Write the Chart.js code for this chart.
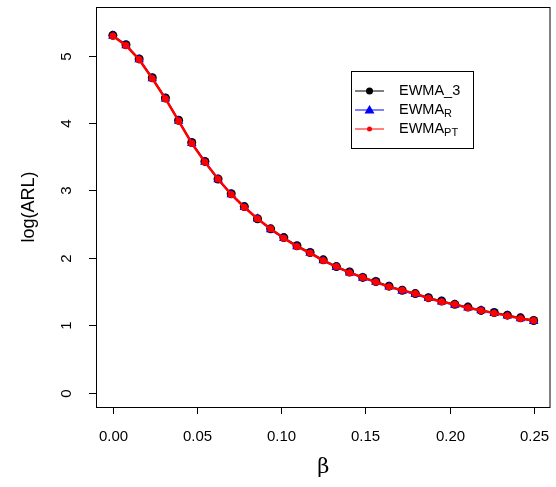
<!DOCTYPE html>
<html>
<head>
<meta charset="utf-8">
<script src="https://cdn.jsdelivr.net/npm/chart.js@4"></script>
<style>
  html, body { margin: 0; padding: 0; background: #fff; }
  #wrap { width: 556px; height: 487px; }
</style>
</head>
<body>
<div id="wrap"><canvas id="arlChart" width="556" height="487"></canvas></div>
<script>
// beta values (step 1/128)
const betas = [0, 0.0078125, 0.015625, 0.0234375, 0.03125, 0.0390625, 0.046875, 0.0546875,
  0.0625, 0.0703125, 0.078125, 0.0859375, 0.09375, 0.1015625, 0.109375, 0.1171875,
  0.125, 0.1328125, 0.140625, 0.1484375, 0.15625, 0.1640625, 0.171875, 0.1796875,
  0.1875, 0.1953125, 0.203125, 0.2109375, 0.21875, 0.2265625, 0.234375, 0.2421875, 0.25];

const ewma3 = [5.30, 5.16, 4.95, 4.67, 4.37, 4.04, 3.71, 3.43, 3.17, 2.95, 2.76, 2.58,
  2.43, 2.30, 2.18, 2.08, 1.97, 1.87, 1.79, 1.71, 1.65, 1.58, 1.52, 1.47, 1.41, 1.36,
  1.31, 1.27, 1.22, 1.19, 1.15, 1.11, 1.07];
const ewmaR = [5.29, 5.15, 4.94, 4.66, 4.36, 4.03, 3.70, 3.42, 3.16, 2.94, 2.75, 2.58,
  2.42, 2.29, 2.17, 2.07, 1.96, 1.86, 1.78, 1.70, 1.64, 1.57, 1.51, 1.46, 1.40, 1.35,
  1.30, 1.26, 1.22, 1.18, 1.14, 1.10, 1.06];
const ewmaPT = [5.29, 5.15, 4.94, 4.66, 4.36, 4.03, 3.70, 3.42, 3.17, 2.94, 2.75, 2.58,
  2.43, 2.29, 2.17, 2.07, 1.96, 1.87, 1.78, 1.71, 1.64, 1.57, 1.52, 1.47, 1.40, 1.35,
  1.31, 1.26, 1.22, 1.18, 1.14, 1.10, 1.07];

const xTicks = [0, 0.05, 0.10, 0.15, 0.20, 0.25];
const yTicks = [0, 1, 2, 3, 4, 5];

const FONT = '"Liberation Sans", Arial, sans-serif';

function pts(ys) {
  return betas.map((b, i) => ({ x: b, y: ys[i] }));
}

// frame, ticks, labels and legend drawn like R base graphics
const rStyle = {
  id: 'rStyle',
  afterDraw(chart) {
    const ctx = chart.ctx;
    const a = chart.chartArea;
    const xs = chart.scales.x, ys = chart.scales.y;
    ctx.save();
    ctx.strokeStyle = '#000';
    ctx.lineWidth = 1;
    ctx.strokeRect(a.left + 0.5, a.top + 0.5, a.right - a.left - 1, a.bottom - a.top);

    ctx.fillStyle = '#000';
    ctx.font = '15px ' + FONT;
    ctx.textAlign = 'center';
    ctx.textBaseline = 'middle';
    xTicks.forEach(v => {
      const px = Math.round(xs.getPixelForValue(v)) + 0.5;
      ctx.beginPath();
      ctx.moveTo(px, a.bottom);
      ctx.lineTo(px, a.bottom + 7);
      ctx.stroke();
      ctx.fillText(v.toFixed(2), px, 437);
    });
    yTicks.forEach(v => {
      const py = Math.round(ys.getPixelForValue(v)) + 0.5;
      ctx.beginPath();
      ctx.moveTo(a.left, py);
      ctx.lineTo(a.left - 7, py);
      ctx.stroke();
      ctx.save();
      ctx.translate(67, py);
      ctx.rotate(-Math.PI / 2);
      ctx.fillText(String(v), 0, 0);
      ctx.restore();
    });

    // axis titles
    ctx.font = '18px ' + FONT;
    ctx.save();
    ctx.translate(29, (a.top + a.bottom) / 2);
    ctx.rotate(-Math.PI / 2);
    ctx.fillText('log(ARL)', 0, 0);
    ctx.restore();
    ctx.font = '21px "DejaVu Serif", serif';
    ctx.fillText('β', (a.left + a.right) / 2, 468);

    // legend
    ctx.lineWidth = 1;
    ctx.strokeRect(351.5, 71.5, 122, 77);
    const items = [
      { main: 'EWMA_3', sub: '', color: '#000', marker: 'circle' },
      { main: 'EWMA', sub: 'R', color: '#0000ff', marker: 'tri' },
      { main: 'EWMA', sub: 'PT', color: '#ff0000', marker: 'dot' }
    ];
    items.forEach((it, i) => {
      const y = 91 + i * 19;
      ctx.strokeStyle = it.color;
      ctx.fillStyle = it.color;
      ctx.beginPath();
      ctx.moveTo(355, y);
      ctx.lineTo(384, y);
      ctx.stroke();
      ctx.beginPath();
      if (it.marker === 'circle') ctx.arc(369.5, y, 3.5, 0, Math.PI * 2);
      else if (it.marker === 'tri') {
        ctx.moveTo(369.5, y - 5); ctx.lineTo(374.5, y + 3.5); ctx.lineTo(364.5, y + 3.5); ctx.closePath();
      } else ctx.arc(369.5, y, 2.5, 0, Math.PI * 2);
      ctx.fill();
      ctx.fillStyle = '#000';
      ctx.textAlign = 'left';
      ctx.font = '14.5px ' + FONT;
      ctx.fillText(it.main, 399, y);
      if (it.sub) {
        const w = ctx.measureText(it.main).width;
        ctx.font = '11px ' + FONT;
        ctx.fillText(it.sub, 399 + w, y + 4);
      }
    });
    ctx.restore();
  }
};

new Chart(document.getElementById('arlChart').getContext('2d'), {
  type: 'line',
  data: {
    datasets: [
      {
        label: 'EWMA_3', data: pts(ewma3), order: 3,
        borderColor: '#000', backgroundColor: '#000', borderWidth: 1.5,
        pointStyle: 'circle', pointRadius: 4.5, pointBorderWidth: 0
      },
      {
        label: 'EWMA_R', data: pts(ewmaR), order: 2,
        borderColor: '#0000ff', backgroundColor: '#0000ff', borderWidth: 1.5,
        pointStyle: 'triangle', pointRadius: 5.5, pointBorderWidth: 0
      },
      {
        label: 'EWMA_PT', data: pts(ewmaPT), order: 1,
        borderColor: '#ff0000', backgroundColor: '#ff0000', borderWidth: 2.5,
        pointStyle: 'circle', pointRadius: 3.5, pointBorderWidth: 0
      }
    ]
  },
  options: {
    responsive: false,
    animation: false,
    layout: { padding: { left: 96, top: 7, right: 2, bottom: 80 } },
    plugins: { legend: { display: false }, tooltip: { enabled: false } },
    elements: { line: { tension: 0 } },
    scales: {
      x: { type: 'linear', display: false, min: -0.01, max: 0.26 },
      y: { type: 'linear', display: false, min: -0.212, max: 5.72 }
    }
  },
  plugins: [rStyle]
});
</script>
</body>
</html>
